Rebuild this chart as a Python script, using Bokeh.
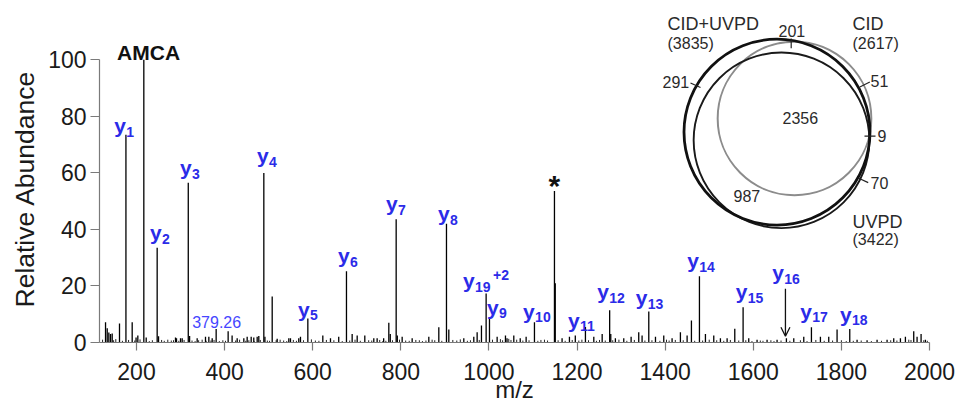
import math
from bokeh.plotting import figure
from bokeh.models import Range1d, FixedTicker, Arrow, OpenHead, ColumnDataSource, Title
from bokeh.embed import file_html
from bokeh.resources import INLINE
from bokeh.core.properties import value

# ---------------- data ----------------
peak_mz = [129.7, 133.5, 137.2, 141.0, 144.8, 161.4, 176.0, 190.2, 199.0, 203.0,
           216.6, 222.0, 246.9, 250.0, 288.5, 290.8, 299.9, 303.7, 317.5, 320.5,
           337.7, 356.6, 364.2, 371.8, 380.8, 408.0, 417.0, 428.5, 443.6, 451.2,
           460.3, 466.2, 473.9, 477.6, 489.0, 491.5, 508.0, 519.3, 545.7, 549.5,
           568.3, 572.2, 588.9, 622.9, 640.3, 659.0, 676.6, 689.5, 700.9, 718.2,
           738.6, 746.2, 761.0, 772.7, 776.0, 789.4, 792.0, 803.0, 825.7, 863.5,
           886.2, 903.6, 908.9, 942.9, 965.6, 973.2, 983.0, 993.6, 1001.2, 1018.6,
           1037.5, 1041.0, 1056.4, 1071.0, 1084.4, 1103.3, 1148.7, 1150.5, 1166.0, 1182.7,
           1196.0, 1219.0, 1238.0, 1257.0, 1274.0, 1276.5, 1287.0, 1306.0, 1322.7, 1340.0,
           1347.6, 1362.8, 1378.0, 1396.8, 1415.7, 1434.6, 1449.8, 1459.6, 1477.8, 1491.4,
           1510.3, 1525.4, 1540.6, 1558.0, 1576.9, 1589.7, 1608.6, 1631.3, 1654.0, 1675.2,
           1691.9, 1714.6, 1732.0, 1752.4, 1771.3, 1790.2, 1819.0, 1835.6, 1858.3, 1881.0,
           1903.7, 1918.8, 1934.0, 1945.3, 1964.2, 1971.8, 1980.9, 1990.7]
peak_ab = [7.2, 5.0, 3.5, 3.0, 3.2, 6.7, 73.5, 7.2, 1.8, 2.5,
           100.0, 1.8, 33.5, 2.2, 1.8, 1.5, 1.5, 1.5, 56.5, 2.3,
           1.5, 2.0, 2.0, 1.5, 4.8, 4.0, 2.5, 1.5, 1.5, 2.0,
           2.0, 1.8, 2.0, 2.3, 60.0, 2.0, 16.3, 1.3, 1.5, 1.5,
           1.5, 2.0, 8.5, 2.5, 1.5, 2.0, 25.2, 3.0, 2.5, 2.5,
           1.5, 1.5, 1.5, 7.0, 3.0, 43.6, 2.5, 2.0, 1.5, 2.0,
           5.4, 42.0, 4.6, 1.5, 2.0, 3.6, 6.0, 17.3, 8.4, 2.0,
           2.5, 1.5, 2.5, 1.5, 2.0, 7.2, 53.6, 21.0, 1.5, 2.0,
           2.5, 5.5, 2.0, 3.0, 11.4, 3.0, 1.5, 1.5, 2.0, 3.6,
           2.5, 11.0, 2.0, 2.5, 1.5, 3.6, 2.5, 7.8, 23.4, 3.0,
           2.5, 1.5, 1.5, 4.9, 12.5, 1.5, 1.0, 1.0, 1.0, 1.5,
           1.5, 2.0, 5.4, 2.0, 2.0, 4.6, 4.8, 1.0, 0.8, 1.0,
           1.0, 1.5, 1.5, 2.0, 4.0, 2.0, 3.0, 1.0]

noise_mz = [123, 148, 153, 168, 182, 196, 208, 229, 236, 257, 263, 271, 279, 284,
            296, 308, 326, 333, 341, 349, 358, 369, 376, 388, 396, 402, 425, 434,
            448, 455, 467, 481, 497, 502, 517, 526, 534, 541, 556, 563, 579, 597,
            606, 614, 631, 648, 667, 684, 696, 708, 727, 734, 752, 759, 766, 781,
            797, 811, 819, 834, 842, 849, 857, 871, 877, 893, 918, 927, 935, 951,
            958, 978, 1008, 1026, 1031, 1045, 1050, 1063, 1077, 1091, 1111, 1118,
            1126, 1133, 1157, 1173, 1189, 1204, 1211, 1226, 1244, 1251, 1264, 1281,
            1295, 1313, 1330, 1354, 1370, 1388, 1403, 1409, 1423, 1441, 1467, 1485,
            1500, 1517, 1533, 1548, 1567, 1583, 1597, 1616, 1622, 1640, 1647, 1663,
            1683, 1707, 1722, 1742, 1761, 1780, 1800, 1811, 1827, 1845, 1868, 1891,
            1912, 1926, 1953, 1958, 1987, 1995]
noise_ab = [1.0, 0.8, 1.2, 0.6, 0.9, 0.7, 1.1, 0.5, 0.8, 0.9, 0.6, 1.0, 0.7, 0.8,
            0.6, 0.9, 0.7, 0.5, 0.8, 1.0, 0.6, 0.7, 0.9, 0.5, 0.8, 0.6, 0.7, 1.0,
            0.6, 0.8, 0.5, 0.9, 0.7, 0.6, 0.8, 1.0, 0.7, 0.5, 0.9, 0.6, 0.8, 1.1,
            0.7, 0.6, 0.9, 0.8, 0.5, 0.7, 1.0, 0.6, 0.8, 0.7, 0.9, 0.5, 0.6, 0.8,
            1.0, 0.7, 0.6, 0.9, 0.8, 0.5, 0.7, 1.0, 0.8, 0.6, 0.9, 0.7, 1.1, 0.6,
            0.8, 0.9, 1.0, 1.2, 0.8, 1.3, 0.9, 1.0, 0.7, 0.8, 0.6, 0.9, 1.0, 0.7,
            0.8, 0.6, 0.9, 0.7, 1.0, 0.8, 0.6, 0.9, 0.7, 0.8, 1.0, 0.6, 0.9, 0.7,
            0.8, 0.6, 1.0, 0.7, 0.9, 0.8, 0.6, 0.7, 1.0, 0.8, 0.6, 0.9, 0.7, 0.8,
            0.5, 0.7, 0.6, 0.8, 0.5, 0.7, 0.6, 0.8, 0.5, 0.9, 0.6, 0.7, 0.8, 0.5,
            0.6, 0.7, 0.5, 0.6, 0.8, 0.7, 1.0, 0.9, 0.8, 0.6]

ion_sub = ["1", "2", "3", "4", "5", "6", "7", "8", "19", "9",
           "10", "11", "12", "13", "14", "15", "16", "17", "18"]
ion_label_mz = [149.5, 230.5, 298.5, 473.5, 566.5, 657.5, 766.5, 884.5, 941.0, 995.5,
                1077.5, 1179.5, 1246.0, 1333.0, 1450.0, 1560.0, 1643.0, 1706.5, 1797.0]
ion_label_ab = [76.6, 38.8, 61.8, 66.0, 11.7, 30.7, 49.1, 45.5, 21.9, 12.4,
                11.0, 7.8, 17.9, 15.9, 29.0, 17.9, 24.6, 11.0, 10.0]

x_ticks = [200, 400, 600, 800, 1000, 1200, 1400, 1600, 1800, 2000]
y_ticks = [0, 20, 40, 60, 80, 100]

venn_names = ["CID+UVPD", "CID", "UVPD"]
venn_totals = [3835, 2617, 3422]
venn_region_counts = ["201", "291", "51", "2356", "9", "70", "987"]

# ---------------- layout ----------------
BLUE = "#2b2be8"
FONT = "Liberation Sans"
X0, X1 = 116, 2000
FRAME_L, FRAME_R, FRAME_B = 99, 929, 343
PX_PER_UNIT = 2.835

p = figure(width=968, height=405, x_range=Range1d(X0, X1),
           y_range=Range1d(0, FRAME_B / PX_PER_UNIT),
           output_backend="svg", toolbar_location=None,
           min_border_left=FRAME_L, min_border_right=968 - FRAME_R,
           min_border_top=0, min_border_bottom=405 - FRAME_B)
p.outline_line_color = None
p.xgrid.visible = False
p.ygrid.visible = False

for ax in (p.xaxis[0], p.yaxis[0]):
    ax.axis_line_color = "#7a7a7a"
    ax.axis_line_width = 1.2
    ax.major_tick_line_color = "#7a7a7a"
    ax.major_tick_line_width = 1.2
    ax.major_tick_in = 0
    ax.minor_tick_line_color = None
    ax.major_label_text_font = FONT
    ax.major_label_text_font_size = "23px"
    ax.major_label_text_color = "#1a1a1a"
    ax.axis_label_text_font = FONT
    ax.axis_label_text_font_style = "normal"
    ax.axis_label_text_color = "#1a1a1a"

p.xaxis.ticker = FixedTicker(ticks=x_ticks)
p.xaxis.bounds = (X0, X1)
p.xaxis.major_tick_out = 8
p.xaxis.major_label_standoff = 12
p.xaxis.axis_label = "m/z"
p.xaxis.axis_label_text_font_size = "24px"
p.xaxis.axis_label_standoff = -7

p.yaxis.ticker = FixedTicker(ticks=y_ticks)
p.yaxis.bounds = (0, 100)
p.yaxis.major_tick_out = 9
p.yaxis.major_label_standoff = 4

# y title in the left border, started 35 px above the frame bottom like the original
p.add_layout(Title(text="Relative Abundance", align="left", offset=35, standoff=11,
                   text_font=FONT, text_font_size="26.5px", text_font_style="normal",
                   text_color="#1a1a1a"), "left")

# spectrum
noise_src = ColumnDataSource(dict(mz=noise_mz, ab=noise_ab))
p.segment(x0="mz", y0=0, x1="mz", y1="ab", source=noise_src, line_color="#222222", line_width=1)
peak_src = ColumnDataSource(dict(mz=peak_mz, ab=peak_ab))
p.segment(x0="mz", y0=0, x1="mz", y1="ab", source=peak_src, line_color="black", line_width=1.3)

# ion labels
lab_src = ColumnDataSource(dict(x=ion_label_mz, y=ion_label_ab, t=["y"] * len(ion_sub), s=ion_sub))
p.text(x="x", y="y", text="t", source=lab_src, text_font=value(FONT), text_font_style="bold",
       text_font_size="21px", text_color=BLUE, text_align="left", text_baseline="alphabetic")
p.text(x="x", y="y", text="s", source=lab_src, text_font=value(FONT), text_font_style="bold",
       text_font_size="14px", text_color=BLUE, text_align="left", text_baseline="alphabetic",
       x_offset=12, y_offset=6)
# charge state of y19
p.text(x=[ion_label_mz[8]], y=[ion_label_ab[8]], text=["+2"], text_font=value(FONT),
       text_font_style="bold", text_font_size="14px", text_color=BLUE, text_align="left",
       text_baseline="alphabetic", x_offset=30, y_offset=-6)

# other annotations
p.text(x=[156.0], y=[102.6], text=["AMCA"], text_font=value(FONT), text_font_style="bold",
       text_font_size="21px", text_color="#111111", text_align="left", text_baseline="alphabetic")
p.text(x=[326.4], y=[7.4], text=["379.26"], text_font=value(FONT), text_font_size="16px",
       text_color="#4646ff", text_align="left", text_baseline="alphabetic")
p.text(x=[1148.7], y=[55.5], text=["*"], text_font=value(FONT), text_font_style="bold",
       text_font_size="30px", text_color="#111111", text_align="center", text_baseline="alphabetic")
p.add_layout(Arrow(end=OpenHead(size=9, line_width=1.3, line_color="#111111"),
                   x_start=1673, y_start=19.0, x_end=1673, y_end=2.2,
                   line_width=1.3, line_color="#111111"))

# ---------------- Venn inset (pixel-like coordinates) ----------------
p.extra_x_ranges = {"vx": Range1d(FRAME_L, FRAME_R)}
p.extra_y_ranges = {"vy": Range1d(FRAME_B, 0)}
R_MAX = 93.0
venn_r = [R_MAX * math.sqrt(t / max(venn_totals)) for t in venn_totals]
venn_cx = [776.5, 794.0, 781.0]
venn_cy = [132.0, 118.3, 140.2]
venn_color = ["#111111", "#8c8c8c", "#1a1a1a"]
venn_width = [2.8, 2.0, 1.9]
order = [1, 2, 0]
p.circle(x=[venn_cx[i] for i in order], y=[venn_cy[i] for i in order],
         radius=[venn_r[i] for i in order], fill_color=None,
         line_color=[venn_color[i] for i in order], line_width=[venn_width[i] for i in order],
         x_range_name="vx", y_range_name="vy")

lead_x0 = [790.7, 690.0, 859.3, 864.0, 858.3]
lead_y0 = [38.0, 82.7, 86.7, 136.0, 178.3]
lead_x1 = [790.7, 700.0, 869.3, 875.0, 867.7]
lead_y1 = [48.0, 87.3, 81.7, 136.0, 182.7]
p.segment(x0=lead_x0, y0=lead_y0, x1=lead_x1, y1=lead_y1, line_color="#222222", line_width=1.2,
          x_range_name="vx", y_range_name="vy")

name_txt = [venn_names[0], "(%d)" % venn_totals[0], venn_names[1], "(%d)" % venn_totals[1],
            venn_names[2], "(%d)" % venn_totals[2]]
name_x = [667, 667, 852, 852, 852, 852]
name_y = [24, 43, 24, 43, 222, 240]
name_size = ["18px", "16px", "18px", "16px", "18px", "16px"]
p.text(x=name_x, y=name_y, text=name_txt, text_font=value(FONT), text_font_size=name_size,
       text_color="#2a2a2a", text_align="left", text_baseline="middle",
       x_range_name="vx", y_range_name="vy")

cnt_x = [778, 662, 870, 782, 877, 870, 733]
cnt_y = [31, 82, 81, 118, 136, 183, 196]
p.text(x=cnt_x, y=cnt_y, text=venn_region_counts, text_font=value(FONT), text_font_size="16px",
       text_color="#2a2a2a", text_align="left", text_baseline="middle",
       x_range_name="vx", y_range_name="vy")

open("out.html", "w").write(file_html(p, INLINE))
